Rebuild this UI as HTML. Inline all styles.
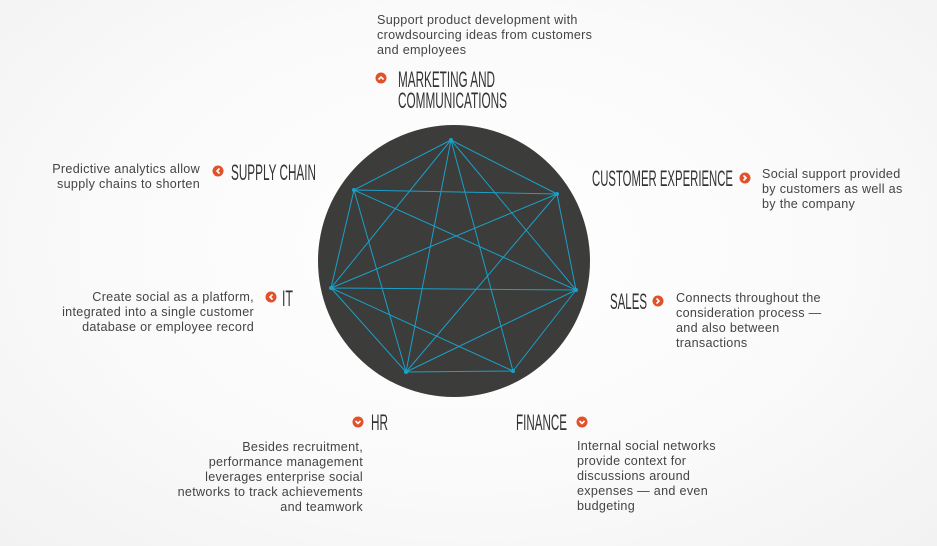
<!DOCTYPE html>
<html><head><meta charset="utf-8"><style>
html,body{margin:0;padding:0;}
body{width:937px;height:546px;overflow:hidden;background:radial-gradient(ellipse at 50% 45%,#ffffff 0%,#fafafa 55%,#f2f2f2 100%);}
svg{display:block}
.b{font-family:"Liberation Sans",sans-serif;font-size:12.6px;letter-spacing:0.3px;fill:#444;}
.h{font-family:"Liberation Sans Narrow","Liberation Sans",sans-serif;font-size:22px;fill:#333;}
</style></head><body>
<svg width="937" height="546" viewBox="0 0 937 546" xmlns="http://www.w3.org/2000/svg">
<circle cx="454" cy="261" r="136" fill="#3c3c3a"/>
<g stroke="#1aa0c8" stroke-width="1" fill="none">
<path d="M451,140L354,190M451,140L557,194M354,190L557,194M354,190L331,288M557,194L576,290M331,288L576,290M331,288L406,372M576,290L513,371M406,372L513,371
M451,140L331,288M451,140L576,290M451,140L406,372M451,140L513,371M354,190L406,372M354,190L576,290M557,194L331,288M557,194L406,372M331,288L513,371M576,290L406,372"/>
</g>
<g fill="#1aa0c8"><circle cx="451" cy="140" r="2"/><circle cx="354" cy="190" r="2"/><circle cx="557" cy="194" r="2"/><circle cx="331" cy="288" r="2"/><circle cx="576" cy="290" r="2"/><circle cx="406" cy="372" r="2"/><circle cx="513" cy="371" r="2"/></g>

<g fill="#e0522a">
<circle cx="381" cy="78" r="5.5"/><circle cx="218" cy="171" r="5.5"/><circle cx="745" cy="178" r="5.5"/>
<circle cx="271" cy="297" r="5.5"/><circle cx="658" cy="301" r="5.5"/><circle cx="358" cy="422" r="5.5"/><circle cx="582" cy="422" r="5.5"/>
</g>
<g stroke="#fff" stroke-width="1.6" fill="none">
<path d="M378.5,79.5L381,77L383.5,79.5"/>
<path d="M219.5,168.5L217,171L219.5,173.5"/>
<path d="M743.5,175.5L746,178L743.5,180.5"/>
<path d="M272.5,294.5L270,297L272.5,299.5"/>
<path d="M656.5,298.5L659,301L656.5,303.5"/>
<path d="M355.5,421L358,423.5L360.5,421"/>
<path d="M579.5,421L582,423.5L584.5,421"/>
</g>

<text class="h" x="398" y="87" textLength="97" lengthAdjust="spacingAndGlyphs">MARKETING AND</text>
<text class="h" x="398" y="108" textLength="109" lengthAdjust="spacingAndGlyphs">COMMUNICATIONS</text>
<text class="h" x="231" y="180" textLength="85" lengthAdjust="spacingAndGlyphs">SUPPLY CHAIN</text>
<text class="h" x="592" y="186" textLength="141" lengthAdjust="spacingAndGlyphs">CUSTOMER EXPERIENCE</text>
<text class="h" x="282" y="306" textLength="11" lengthAdjust="spacingAndGlyphs">IT</text>
<text class="h" x="610" y="309" textLength="37" lengthAdjust="spacingAndGlyphs">SALES</text>
<text class="h" x="371" y="430" textLength="17" lengthAdjust="spacingAndGlyphs">HR</text>
<text class="h" x="516" y="430" textLength="51" lengthAdjust="spacingAndGlyphs">FINANCE</text>

<g class="b">
<text x="377" y="24">Support product development with</text>
<text x="377" y="39">crowdsourcing ideas from customers</text>
<text x="377" y="54">and employees</text>
</g>
<g class="b" text-anchor="end">
<text x="200" y="173">Predictive analytics allow</text>
<text x="200" y="188">supply chains to shorten</text>
<text x="254" y="301">Create social as a platform,</text>
<text x="254" y="316">integrated into a single customer</text>
<text x="254" y="331">database or employee record</text>
<text x="363" y="451">Besides recruitment,</text>
<text x="363" y="466">performance management</text>
<text x="363" y="481">leverages enterprise social</text>
<text x="363" y="496">networks to track achievements</text>
<text x="363" y="511">and teamwork</text>
</g>
<g class="b">
<text x="762" y="178">Social support provided</text>
<text x="762" y="193">by customers as well as</text>
<text x="762" y="208">by the company</text>
<text x="676" y="302">Connects throughout the</text>
<text x="676" y="317">consideration process —</text>
<text x="676" y="332">and also between</text>
<text x="676" y="347">transactions</text>
<text x="577" y="450">Internal social networks</text>
<text x="577" y="465">provide context for</text>
<text x="577" y="480">discussions around</text>
<text x="577" y="495">expenses — and even</text>
<text x="577" y="510">budgeting</text>
</g>
</svg>
</body></html>
